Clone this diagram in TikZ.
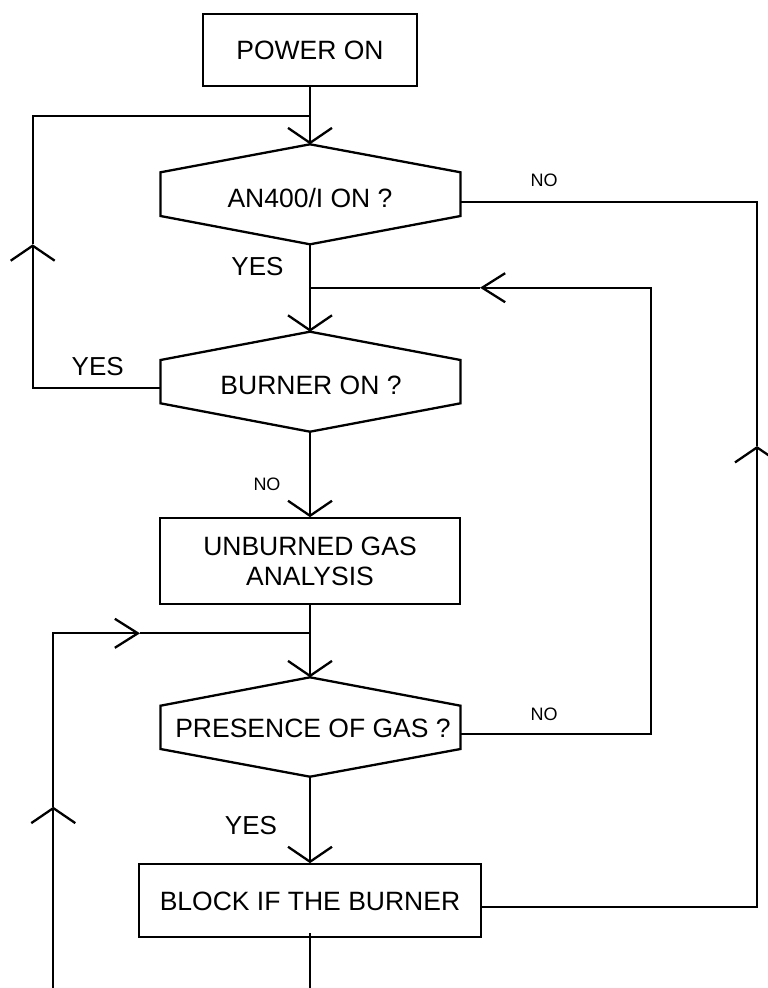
\documentclass[tikz,border=0pt]{standalone}
\usepackage{fontspec}
\setmainfont{Liberation Sans}
\usetikzlibrary{arrows.meta}
\begin{document}
\begin{tikzpicture}[x=1pt,y=-1pt,
  line width=2.3pt, line join=miter,
  box/.style={draw, line width=2.3pt, inner sep=0pt, font=\fontsize{26.5}{30}\selectfont, align=center},
  hexshape/.style={draw, line width=2.3pt},
  hextext/.style={inner sep=0pt, font=\fontsize{26.5}{30}\selectfont, text height=19pt, text depth=0pt},
  biglbl/.style={inner sep=0pt, anchor=base, font=\fontsize{26}{30}\selectfont},
  smalllbl/.style={inner sep=0pt, anchor=base, font=\fontsize{18}{20}\selectfont},
  vtip/.style={-{Straight Barb[length=15pt,width=44pt]}},
  htip/.style={-{Straight Barb[length=23pt,width=29pt]}},
]
\useasboundingbox (0,0) rectangle (768,988);

% boxes
\node[box, minimum width=214pt, minimum height=72pt, text height=19pt, text depth=0pt] (pwr) at (310,50) {POWER ON};
\node[box, minimum width=299.5pt, minimum height=86pt] (ugas) at (310,561.3) {UNBURNED GAS\\ANALYSIS};
\node[box, minimum width=341.7pt, minimum height=72.4pt, text height=19pt, text depth=0pt] (blk) at (310,900.5) {BLOCK IF THE BURNER};

% hexagon 1
\coordinate (h1t) at (310,144.3);
\coordinate (h1ne) at (460.5,172.3);
\coordinate (h1se) at (460.5,216);
\coordinate (h1b) at (310,244.3);
\coordinate (h1sw) at (160.5,216);
\coordinate (h1nw) at (160.5,172.3);
\draw[hexshape] (h1t) -- (h1ne) -- (h1se) -- (h1b) -- (h1sw) -- (h1nw) -- cycle;
\node[hextext] (h1txt) at (310,197.8) {AN400/I ON ?};
\coordinate (h1e) at (460.5,201.7);

% hexagon 2
\coordinate (h2t) at (310,331.7);
\coordinate (h2ne) at (460.5,360);
\coordinate (h2se) at (460.5,403.3);
\coordinate (h2b) at (310,431.7);
\coordinate (h2sw) at (160.5,403.3);
\coordinate (h2nw) at (160.5,360);
\draw[hexshape] (h2t) -- (h2ne) -- (h2se) -- (h2b) -- (h2sw) -- (h2nw) -- cycle;
\node[hextext] (h2txt) at (311,384.7) {BURNER ON ?};
\coordinate (h2w) at (160.5,388.3);

% hexagon 3
\coordinate (h3t) at (310,677.3);
\coordinate (h3ne) at (460.5,705.7);
\coordinate (h3se) at (460.5,749);
\coordinate (h3b) at (310,776.7);
\coordinate (h3sw) at (160.5,749);
\coordinate (h3nw) at (160.5,705.7);
\draw[hexshape] (h3t) -- (h3ne) -- (h3se) -- (h3b) -- (h3sw) -- (h3nw) -- cycle;
\node[hextext] (h3txt) at (313,728.3) {PRESENCE OF GAS ?};
\coordinate (h3e) at (460.5,734.3);

% junctions and corner points
\coordinate (j1) at (310,115.7);
\coordinate (j2) at (310,287.7);
\coordinate (j3) at (310,633.3);
\coordinate (blke) at (480.8,906.7);
\coordinate (blks) at (310,933);
\coordinate (end1) at (310,988);
\coordinate (end2) at (53.3,988);
\coordinate (tipL1) at (32.7,244.3);
\coordinate (tipR1) at (757,446);
\coordinate (tipR2) at (480,287.7);
\coordinate (tipL2) at (53.3,806.7);
\coordinate (tipL3) at (140,633.3);

% main flow
\draw[vtip] (pwr.south) -- (h1t);
\draw[vtip] (h1b) -- (h2t);
\draw[vtip] (h2b) -- (ugas.north);
\draw[vtip] (ugas.south) -- (h3t);
\draw[vtip] (h3b) -- (blk.north);
\draw (blks) -- (end1);

% left upper loop (YES from burner)
\draw[vtip] (h2w) -- (32.7,388.3) -- (tipL1);
\draw (tipL1) -- (32.7,115.7) -- (j1);

% right outer loop
\draw[vtip] (blke) -- (757,906.7) -- (tipR1);
\draw (tipR1) -- (757,201.7) -- (h1e);

% right inner loop (NO from presence of gas)
\draw[htip] (h3e) -- (650.7,734.3) -- (650.7,287.7) -- (tipR2);
\draw (tipR2) -- (j2);

% lower left loop
\draw[vtip] (end2) -- (tipL2);
\draw[htip] (tipL2) -- (53.3,633.3) -- (tipL3);
\draw (tipL3) -- (j3);

% labels
\node[smalllbl] (no1) at (544,186.7) {NO};
\node[biglbl] (yes1) at (257.5,275) {YES};
\node[biglbl] (yes2) at (97.7,375) {YES};
\node[smalllbl] (no2) at (267,490) {NO};
\node[smalllbl] (no3) at (544,720) {NO};
\node[biglbl] (yes3) at (251,834.3) {YES};
\end{tikzpicture}
\end{document}
